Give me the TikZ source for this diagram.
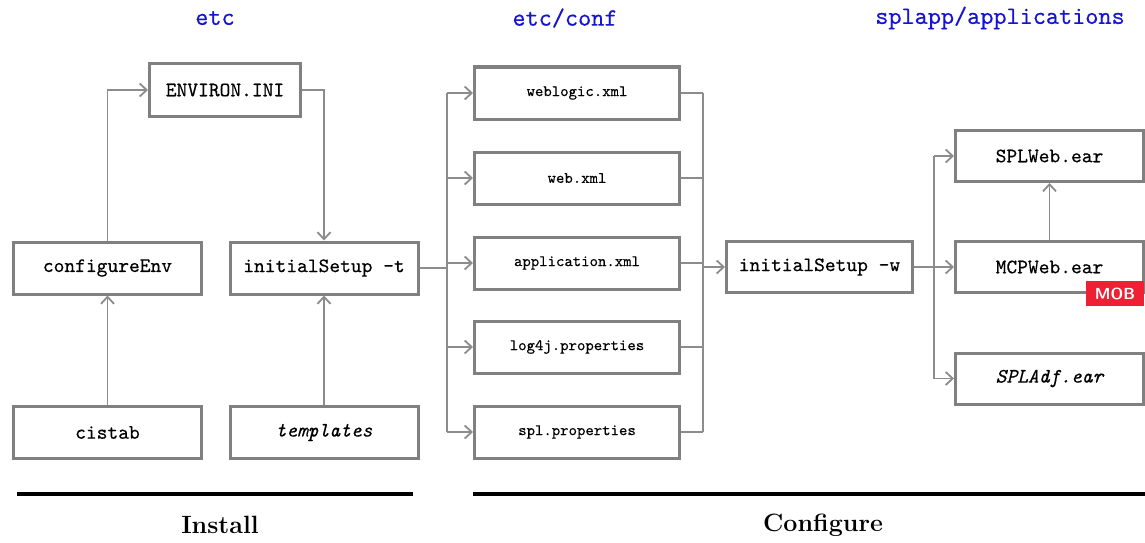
\documentclass[tikz,border=0pt]{standalone}
\usepackage{fontspec}
\newfontfamily\boxtt{lmmono10-regular.otf}[ItalicFont=lmmono10-italic.otf,FakeBold=0.35]
\usetikzlibrary{arrows.meta}
\definecolor{boxgray}{RGB}{128,128,128}
\definecolor{linegray}{RGB}{140,140,140}
\definecolor{hdrblue}{RGB}{20,20,210}
\definecolor{mobred}{RGB}{240,32,52}
\begin{document}
\begin{tikzpicture}[x=1pt,y=-1pt,
  box/.style={draw=boxgray,line width=3pt,fill=white,inner sep=0pt,
    font=\boxtt\fontsize{20.5}{22}\selectfont},
  bigbox/.style={box,minimum width=188pt,minimum height=52pt},
  midbox/.style={box,minimum width=205pt,minimum height=52pt,
    font=\boxtt\fontsize{16}{18}\selectfont},
  conn/.style={draw=linegray,line width=1.3pt},
  arr/.style={conn,-{Straight Barb[length=7pt,width=13pt,line width=1.8pt]}},
  hdr/.style={text=hdrblue,font=\boxtt\fontsize{25}{28}\selectfont},
  phase/.style={font=\bfseries\fontsize{25}{28}\selectfont},
  bar/.style={line width=4.5pt,black}
]
\useasboundingbox (0,0) rectangle (1145,543);
% headers
\node[hdr] (h1) at (215,18) {etc};
\node[hdr] (h2) at (565,18) {etc/conf};
\node[hdr] (h3) at (1000,18) {splapp/applications};
% install part
\node[box,minimum width=151pt,minimum height=53pt] (env) at (225,90) {ENVIRON.INI};
\node[bigbox] (cfg) at (107.5,268) {configureEnv};
\node[bigbox] (ist) at (324,268) {initialSetup -t};
\node[bigbox] (cis) at (107.5,432.5) {cistab};
\node[bigbox] (tpl) at (324,432.5) {\itshape templates};
\draw[arr] (cis.north) -- (cfg.south);
\draw[arr] (tpl.north) -- (ist.south);
\draw[arr] (cfg.north) |- (env.west);
\draw[arr] (env.east) -| (ist.north);
% conf files
\node[midbox] (m1) at (577,93) {weblogic.xml};
\node[midbox] (m2) at (577,178) {web.xml};
\node[midbox] (m3) at (577,263) {application.xml};
\node[midbox] (m4) at (577,347) {log4j.properties};
\node[midbox] (m5) at (577,432) {spl.properties};
\coordinate (lt) at (447,0);
\coordinate (rt) at (703,0);
\draw[conn] (ist.east) -- (ist.east -| lt);
\draw[conn] (m1.west -| lt) -- (m5.west -| lt);
\draw[conn] (m1.east -| rt) -- (m5.east -| rt);
\foreach \m in {m1,m2,m3,m4,m5}{
  \draw[arr] (\m.west -| lt) -- (\m.west);
  \draw[conn] (\m.east) -- (\m.east -| rt);
}
\node[bigbox,minimum width=186pt,minimum height=51pt] (isw) at (819.5,267) {initialSetup -w};
\draw[arr] (isw.west -| rt) -- (isw.west);
% applications
\node[bigbox,minimum height=51pt] (spw) at (1049.5,156) {SPLWeb.ear};
\node[bigbox,minimum height=51pt] (mcp) at (1049.5,267) {MCPWeb.ear};
\node[bigbox,minimum height=51pt] (adf) at (1049.5,378.5) {\itshape SPLAdf.ear};
\coordinate (at) at (934,0);
\draw[arr] (isw.east) -- (mcp.west);
\draw[conn] (spw.west -| at) -- (adf.west -| at);
\draw[arr] (spw.west -| at) -- (spw.west);
\draw[arr] (adf.west -| at) -- (adf.west);
\draw[arr] (mcp.north) -- (spw.south);
\node[fill=mobred,text=white,inner sep=0pt,minimum width=58pt,minimum height=25pt,
  font=\sffamily\bfseries\fontsize{16}{18}\selectfont] (mob) at (1115,293.5) {MOB};
% phases
\coordinate (b1a) at (17,494);
\coordinate (b1b) at (413,494);
\coordinate (b2a) at (473,494);
\coordinate (b2b) at (1145,494);
\draw[bar] (b1a) -- (b1b);
\draw[bar] (b2a) -- (b2b);
\node[phase] (inst) at (220,525) {Install};
\node[phase] (conf) at (823,525) {Configure};
\end{tikzpicture}
\end{document}
